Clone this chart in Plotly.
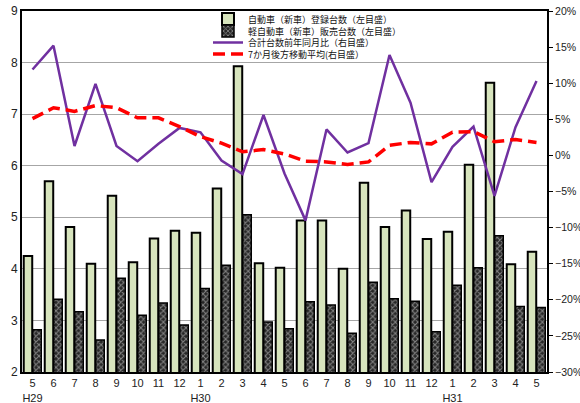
import plotly.graph_objects as go

months = ["5", "6", "7", "8", "9", "10", "11", "12", "1", "2", "3", "4", "5",
          "6", "7", "8", "9", "10", "11", "12", "1", "2", "3", "4", "5"]
eras = ["H29", "", "", "", "", "", "", "", "H30", "", "", "", "",
        "", "", "", "", "", "", "", "H31", "", "", "", ""]

registered = [4.25, 5.70, 4.81, 4.10, 5.42, 4.13, 4.59, 4.74, 4.70, 5.56, 7.93, 4.11, 4.02,
              4.94, 4.94, 4.00, 5.67, 4.81, 5.13, 4.58, 4.72, 6.02, 7.61, 4.09, 4.33]
kei = [2.82, 3.41, 3.17, 2.62, 3.82, 3.10, 3.34, 2.91, 3.62, 4.07, 5.05, 2.97, 2.84,
       3.36, 3.30, 2.75, 3.74, 3.42, 3.37, 2.78, 3.68, 4.02, 4.64, 3.27, 3.25]
yoy = [11.9, 15.2, 1.3, 9.9, 1.3, -0.8, 1.6, 3.8, 3.2, -0.7, -2.6, 5.6, -2.5,
       -9.0, 3.6, 0.4, 1.7, 13.9, 7.3, -3.7, 1.2, 4.0, -5.6, 3.9, 10.3]
ma7 = [5.1, 6.6, 6.1, 6.9, 6.6, 5.2, 5.2, 4.0, 2.6, 1.7, 0.5, 0.8, 0.2,
       -0.8, -0.9, -1.25, -0.9, 1.4, 1.8, 1.6, 3.2, 3.3, 1.9, 2.2, 1.8]

names = ["自動車（新車）登録台数（左目盛）", "軽自動車（新車）販売台数（左目盛）",
         "合計台数前年同月比（右目盛）", "7か月後方移動平均(右目盛）"]

x = list(range(len(months)))
ticktext = [m + ("<br>" + e if e else "") for m, e in zip(months, eras)]

fig = go.Figure()
fig.add_trace(go.Bar(x=x, y=registered, name=names[0], legend="legend",
                     marker=dict(color="#D7E4BD", line=dict(color="black", width=2))))
fig.add_trace(go.Bar(x=x, y=kei, name=names[1], legend="legend2",
                     marker=dict(color="#222222", line=dict(color="black", width=1.5),
                                 pattern=dict(shape="x", bgcolor="#262626", fgcolor="#e0e0e0",
                                              size=4, solidity=0.45))))
fig.add_trace(go.Scatter(x=x, y=yoy, name=names[2], yaxis="y2", mode="lines", legend="legend3",
                         line=dict(color="#7030A0", width=2.5)))
fig.add_trace(go.Scatter(x=x, y=ma7, name=names[3], yaxis="y2", mode="lines", legend="legend4",
                         line=dict(color="#FF0000", width=3.5, dash="12px,6px")))

# plot area: x 22..547, y 11..372
def leg(ycenter_px):
    return dict(x=(208 - 22) / 525, y=(372 - ycenter_px) / 361,
                xanchor="left", yanchor="middle",
                font=dict(family="Noto Sans CJK JP", size=9, color="#111"),
                bgcolor="rgba(255,255,255,0)", borderwidth=0)

fig.update_layout(
    width=580, height=403,
    margin=dict(l=22, r=33, t=11, b=31, autoexpand=False),
    paper_bgcolor="white", plot_bgcolor="white",
    font=dict(family="Liberation Sans, Noto Sans CJK JP", size=12, color="#222"),
    barmode="group", bargap=0.14, bargroupgap=0.06,
    showlegend=True,
    legend=leg(19), legend2=leg(31), legend3=leg(42.5), legend4=leg(54),
    xaxis=dict(range=[-0.5, len(months) - 0.5], tickmode="array", tickvals=x,
               ticktext=ticktext, showgrid=False, showline=True, linecolor="black",
               linewidth=2, mirror=True, ticks="", tickfont=dict(size=11), automargin=False),
    yaxis=dict(range=[2, 9], dtick=1, showgrid=True, gridcolor="#A6A6A6", gridwidth=1,
               showline=True, linecolor="black", linewidth=2, ticks="",
               zeroline=False, tickfont=dict(size=12), automargin=False),
    yaxis2=dict(range=[-30, 20], dtick=5, overlaying="y", side="right",
                ticksuffix="%", showgrid=False, showline=True, linecolor="black",
                linewidth=2, ticks="outside", ticklen=4, tickcolor="black",
                zeroline=False, tickfont=dict(size=10.5), automargin=False),
)

fig.write_html("out.html", config={"displayModeBar": False},
               post_script="document.body.style.margin='0';")
